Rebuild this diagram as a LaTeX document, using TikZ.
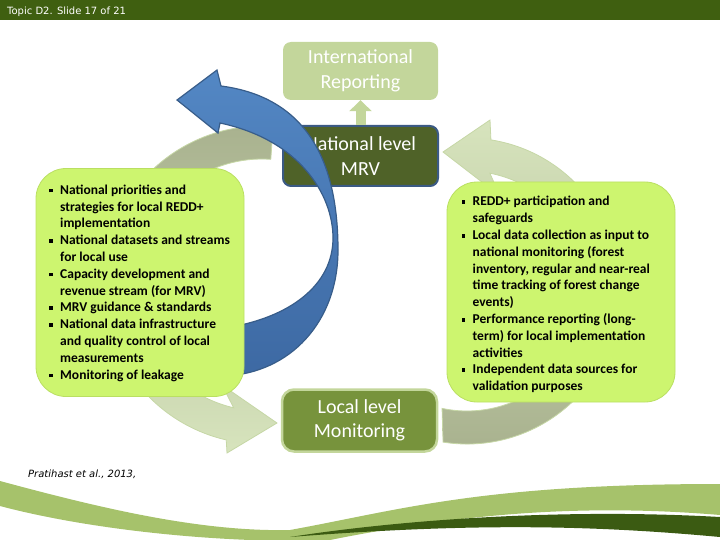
\documentclass[tikz,border=0pt]{standalone}
\usepackage{fontspec}
\setmainfont{Carlito}
\newfontfamily\verdana{DejaVu Sans}
\usetikzlibrary{arrows.meta}
\definecolor{bargreen}{HTML}{3F5F10}
\definecolor{swooshlight}{HTML}{A6C26B}
\definecolor{swooshdark}{HTML}{3B5B12}
\definecolor{intlfill}{HTML}{C3D69B}
\definecolor{natfill}{HTML}{4F6228}
\definecolor{natline}{HTML}{3B5A84}
\definecolor{localfill}{HTML}{77933C}
\definecolor{localline}{HTML}{C3D69B}
\definecolor{listfill}{HTML}{CDF56F}
\definecolor{listline}{HTML}{BADF62}
\definecolor{arcgray}{HTML}{A8B18E}
\definecolor{arclight}{HTML}{D7E4BD}
\definecolor{arcline}{HTML}{C6D7A6}
\definecolor{bluetop}{HTML}{5387C4}
\definecolor{bluebot}{HTML}{3D69A3}
\definecolor{blueline}{HTML}{385D8A}
\newcommand\bsq{\rule[2pt]{3.5pt}{3.5pt}}
\begin{document}
\begin{tikzpicture}[x=1pt,y=-1pt,
	titlebox/.style={rounded corners=8pt,minimum width=155pt,minimum height=58pt,
		align=center,text=white,font=\fontsize{20}{24.5}\selectfont,inner sep=0pt},
	listbox/.style={fill=listfill,draw=listline,line width=0.8pt,rounded corners=30pt,inner sep=0pt},
	listtext/.style={anchor=west,inner sep=0pt,font=\fontsize{13.5}{16.8}\selectfont\bfseries},
	band/.style={draw=arcline,line width=0.8pt}]
	\useasboundingbox (0,0) rectangle (720,540);
	\fill[bargreen] (0,0) rectangle (720,20.5);
	\node[anchor=base west,inner sep=0pt,text=white,font=\verdana\fontsize{10}{12}\selectfont] (topic) at (7,15) {Topic D2. Slide 17 of 21};
	\fill[swooshlight] (0,481) .. controls (100,508) and (200,532) .. (290,530) .. controls (400,510) and (480,484) .. (720,484) -- (720,515) .. controls (600,505) and (480,510) .. (330,540) -- (250,540) .. controls (150,536) and (60,522) .. (0,506) -- cycle;
	\fill[swooshdark] (290,537) .. controls (400,520) and (560,508) .. (720,517) -- (720,537) .. controls (600,526) and (480,522) .. (290,537) -- cycle;
	\node[anchor=base west,inner sep=0pt,font=\verdana\itshape\fontsize{10}{12}\selectfont] (cite) at (28,477) {Pratihast et al., 2013,};
	\coordinate (lc) at (262,285);
	\coordinate (rc) at (467,291);
	\path[band,top color=arcgray,bottom color=arclight] ([shift={(-86:159)}]lc) arc[start angle=-86,end angle=-257,radius=159] -- (227,453) -- (277,423) -- (222,385) -- ([shift={(-257:126)}]lc) arc[start angle=-257,end angle=-86,radius=126] -- cycle;
	\path[band,top color=arclight,bottom color=arcgray] ([shift={(99:153)}]rc) arc[start angle=99,end angle=-81,radius=153] -- (490,120) -- (443,152) -- (500,196) -- ([shift={(-79:120)}]rc) arc[start angle=-79,end angle=102,radius=120] -- cycle;
	\node[titlebox,fill=intlfill] (intl) at (360.5,71) {International\\Reporting};
	\node[titlebox,fill=natfill,draw=natline,line width=2pt,minimum height=60pt] (nat) at (360.5,156) {National level\\MRV};
	\draw[intlfill,line width=10pt,-{Triangle[width=22pt,length=11pt]}] (nat) -- (intl);
	\path[draw=blueline,line width=1.2pt,top color=bluetop,bottom color=bluebot] (177,100) -- (217,70) -- (221,86) .. controls (290,95) and (338,140) .. (338,250) .. controls (338,322) and (290,373) .. (225,376) -- (225,328) .. controls (290,318) and (333,285) .. (333,238) .. controls (333,195) and (300,140) .. (220,123) -- (218,133) -- cycle;
	\node[listbox,minimum width=208pt,minimum height=228pt] (lbox) at (140,282.5) {};
	\node[listtext] (ltext) at (49,283.4) {\begin{tabular}{@{}l@{\hspace{7.5pt}}l@{}}
		\bsq & National priorities and\\
		& strategies for local REDD+\\
		& implementation\\
		\bsq & National datasets and streams\\
		& for local use\\
		\bsq & Capacity development and\\
		& revenue stream (for MRV)\\
		\bsq & MRV guidance \& standards\\
		\bsq & National data infrastructure\\
		& and quality control of local\\
		& measurements\\
		\bsq & Monitoring of leakage
	\end{tabular}};
	\node[listbox,minimum width=228pt,minimum height=220pt] (rbox) at (561,292) {};
	\node[listtext] (rtext) at (461.5,295) {\begin{tabular}{@{}l@{\hspace{7.5pt}}l@{}}
		\bsq & REDD+ participation and\\
		& safeguards\\
		\bsq & Local data collection as input to\\
		& national monitoring (forest\\
		& inventory, regular and near-real\\
		& time tracking of forest change\\
		& events)\\
		\bsq & Performance reporting (long-\\
		& term) for local implementation\\
		& activities\\
		\bsq & Independent data sources for\\
		& validation purposes
	\end{tabular}};
	\node[titlebox,fill=localfill,draw=localline,line width=2.5pt,rounded corners=12pt,minimum height=62pt] (local) at (359.5,420.5) {Local level\\Monitoring};
\end{tikzpicture}
\end{document}
